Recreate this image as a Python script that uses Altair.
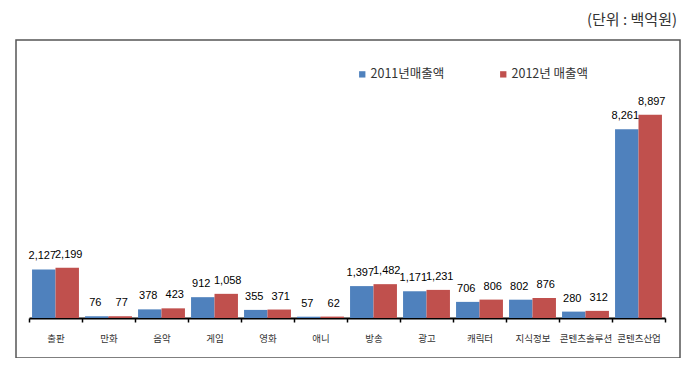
import altair as alt
import pandas as pd

categories = ["출판", "만화", "음악", "게임", "영화", "애니", "방송", "광고",
              "캐릭터", "지식정보", "콘텐츠솔루션", "콘텐츠산업"]
series = ["2011년매출액", "2012년 매출액"]
sales_2011 = [2127, 76, 378, 912, 355, 57, 1397, 1171, 706, 802, 280, 8261]
sales_2012 = [2199, 77, 423, 1058, 371, 62, 1482, 1231, 806, 876, 312, 8897]
colors = ["#4F81BD", "#C0504D"]
unit_label = "(단위 : 백억원)"

rows = []
for c, a, b in zip(categories, sales_2011, sales_2012):
    rows.append({"cat": c, "series": series[0], "value": a})
    rows.append({"cat": c, "series": series[1], "value": b})
df = pd.DataFrame(rows)

KFONT = "Noto Sans CJK KR"
NFONT = "Liberation Sans"

x = alt.X("cat:N", sort=categories,
          scale=alt.Scale(paddingInner=0, paddingOuter=0),
          axis=alt.Axis(title=None, labelAngle=0, tickBand="extent",
                        domainColor="black", domainWidth=2, tickColor="black",
                        tickSize=4, tickWidth=1.5, labelFontSize=9.5, labelColor="#333",
                        labelPadding=11, labelFont=KFONT, grid=False,
                        labelOverlap=False))
xo = alt.XOffset("series:N", sort=series,
                 scale=alt.Scale(paddingOuter=0.13, paddingInner=0))
y = alt.Y("value:Q", scale=alt.Scale(domain=[0, 12000]), axis=None)
color = alt.Color("series:N", sort=series,
                  scale=alt.Scale(domain=series, range=colors),
                  legend=alt.Legend(orient="none", legendX=327, legendY=24,
                                    direction="horizontal", title=None,
                                    symbolType="square", symbolSize=40,
                                    symbolStrokeWidth=0, labelFontSize=12.5,
                                    labelFont=KFONT, labelColor="#333",
                                    labelOffset=2, columnPadding=52))

bars = alt.Chart(df).mark_bar().encode(x=x, xOffset=xo, y=y, color=color)

label_base = alt.Chart(df).encode(
    x=x, xOffset=xo, y=y, text=alt.Text("value:Q", format=","))
labels_a = label_base.transform_filter(alt.datum.series == series[0]).mark_text(
    baseline="bottom", dy=-8, dx=-1.5, font=NFONT, fontSize=11, color="black")
labels_b = label_base.transform_filter(alt.datum.series == series[1]).mark_text(
    baseline="bottom", dy=-8, dx=1.5, font=NFONT, fontSize=11, color="black")

frame = alt.Chart(pd.DataFrame({"a": [0]})).mark_rect(
    fill="white", fillOpacity=0, stroke="#555", strokeWidth=1.5).encode(
    x=alt.value(-13), x2=alt.value(651), y=alt.value(-4), y2=alt.value(314))
unit = alt.Chart(pd.DataFrame({"t": [unit_label]})).mark_text(
    align="right", baseline="middle", fontSize=15, color="#333", font=KFONT).encode(
    text="t:N", x=alt.value(648), y=alt.value(-24))

chart = alt.layer(frame, bars, labels_a, labels_b, unit).properties(
    width=636, height=274, autosize="none",
    padding={"left": 21, "top": 36, "right": 20, "bottom": 40}
).configure_view(strokeWidth=0)

chart.save("out.html", embed_options={"renderer": "svg", "actions": False})
